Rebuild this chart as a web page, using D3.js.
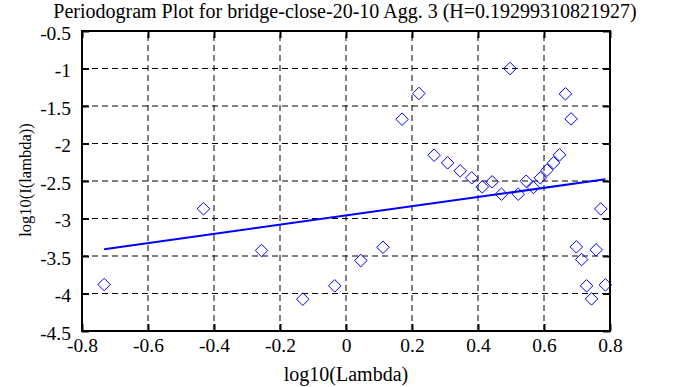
<!DOCTYPE html>
<html><head><meta charset="utf-8">
<script src="https://cdn.jsdelivr.net/npm/d3@7"></script>
<style>body{margin:0;background:#fff}svg{display:block}svg text{font-family:"Times New Roman","Liberation Serif","DejaVu Serif",serif !important;fill:#000}</style>
</head><body>
<script>
const titleText = "Periodogram Plot for bridge-close-20-10 Agg. 3 (H=0.19299310821927)";
const xLabel = "log10(Lambda)";
const yLabel = "log10(I(lambda))";
const xTicks = [-0.8,-0.6,-0.4,-0.2,0,0.2,0.4,0.6,0.8];
const yTicks = [-0.5,-1,-1.5,-2,-2.5,-3,-3.5,-4,-4.5];
const logLambda = [-0.733,-0.432,-0.256,-0.131,-0.034,0.045,0.112,0.170,0.221,0.267,0.308,0.346,0.381,0.413,0.443,0.471,0.497,0.522,0.546,0.568,0.589,0.609,0.629,0.647,0.665,0.682,0.698,0.714,0.729,0.744,0.758,0.772,0.786];
const logI = [-3.88,-2.87,-3.427,-4.076,-3.898,-3.56,-3.383,-1.676,-1.333,-2.156,-2.258,-2.365,-2.458,-2.578,-2.511,-2.676,-1.0,-2.676,-2.503,-2.587,-2.458,-2.356,-2.258,-2.152,-1.338,-1.672,-3.378,-3.547,-3.898,-4.072,-3.418,-2.872,-3.885];
const fitX = [-0.733, 0.786];
const fitY = [-3.41, -2.477];

const W = 688, H = 387;
const m = {l:82, r:78, t:31, b:56};
const svg = d3.select("body").append("svg").attr("width",W).attr("height",H);
const x = d3.scaleLinear().domain([-0.8,0.8]).range([m.l, W-m.r]);
const y = d3.scaleLinear().domain([-4.5,-0.5]).range([H-m.b, m.t]);
const fmt = d => String(d);

// grid
const g = svg.append("g");
g.selectAll(".vg").data(xTicks.slice(1,-1)).join("line")
 .attr("x1",d=>x(d)).attr("x2",d=>x(d)).attr("y1",y(-4.5)).attr("y2",y(-0.5))
 .attr("stroke","#000").attr("stroke-width",1).attr("stroke-dasharray","6,4");
g.selectAll(".hg").data(yTicks.slice(1,-1)).join("line")
 .attr("y1",d=>y(d)).attr("y2",d=>y(d)).attr("x1",x(-0.8)).attr("x2",x(0.8))
 .attr("stroke","#000").attr("stroke-width",1).attr("stroke-dasharray","6,4");

// fit line
svg.append("path").datum(fitX.map((v,i)=>[v,fitY[i]]))
 .attr("d", d3.line().x(d=>x(d[0])).y(d=>y(d[1])))
 .attr("stroke","#0000ff").attr("stroke-width",2).attr("fill","none");

// points
const sym = d3.symbol().type(d3.symbolDiamond2 || d3.symbolSquare2).size(100);
svg.selectAll(".pt").data(logLambda.map((v,i)=>[v,logI[i]])).join("path")
 .attr("transform",d=>`translate(${x(d[0])},${y(d[1])})`)
 .attr("d", sym).attr("fill","none").attr("stroke","#0000ff").attr("stroke-width",1);

// axes (ticks inward on all sides)
const tl = 7;
const axB = d3.axisBottom(x).tickValues(xTicks).tickSize(-tl).tickFormat(fmt);
const axT = d3.axisTop(x).tickValues(xTicks).tickSize(-tl).tickFormat("");
const axL = d3.axisLeft(y).tickValues(yTicks).tickSize(-tl).tickFormat(fmt);
const axR = d3.axisRight(y).tickValues(yTicks).tickSize(-tl).tickFormat("");
function style(sel){
  sel.select(".domain").remove();
  sel.selectAll(".tick line").attr("stroke","#000").attr("stroke-width",2);
  sel.selectAll("text").attr("font-size",19.5).attr("fill","#000");
}
const gB = svg.append("g").attr("transform",`translate(0,${y(-4.5)})`).call(axB).call(style);
gB.selectAll(".tick text").attr("y",21).attr("dy",0);
svg.append("g").attr("transform",`translate(0,${y(-0.5)})`).call(axT).call(style);
const gL = svg.append("g").attr("transform",`translate(${x(-0.8)},0)`).call(axL).call(style);
gL.selectAll(".tick text").attr("x",-11).attr("dy",0).attr("y",8);
svg.append("g").attr("transform",`translate(${x(0.8)},0)`).call(axR).call(style);
svg.append("rect").attr("x",x(-0.8)).attr("y",y(-0.5)).attr("width",x(0.8)-x(-0.8)).attr("height",y(-4.5)-y(-0.5))
 .attr("fill","none").attr("stroke","#000").attr("stroke-width",2);

// labels
svg.append("text").attr("x",345).attr("y",18).attr("text-anchor","middle").attr("font-size",20).text(titleText);
svg.append("text").attr("x",346).attr("y",381).attr("text-anchor","middle").attr("font-size",20).text(xLabel);
svg.append("text").attr("transform","translate(31,180) rotate(-90)").attr("text-anchor","middle").attr("font-size",16.5).text(yLabel);
</script>
</body></html>
